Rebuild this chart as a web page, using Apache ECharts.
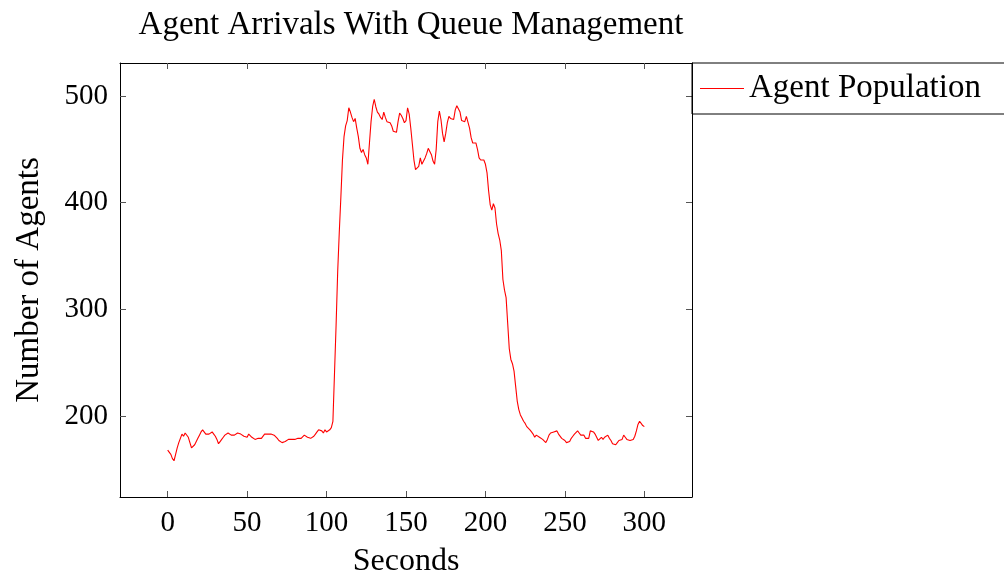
<!DOCTYPE html>
<html>
<head>
<meta charset="utf-8">
<title>Agent Arrivals With Queue Management</title>
<script src="https://cdn.jsdelivr.net/npm/echarts@6/dist/echarts.min.js"></script>
<style>
  html, body { margin: 0; padding: 0; background: #fff; }
  #chart { width: 1004px; height: 577px; }
</style>
</head>
<body>
<div id="chart"></div>
<script>
// Agent population sampled once per second, starting at t = 0 s
const population = [
  168, 167, 164, 160, 158, 164, 170, 175, 179, 183,
  181, 184, 185, 180, 175, 170, 171, 173, 176, 179,
  182, 185, 187, 188, 183, 183, 183, 184, 185, 183,
  181, 178, 174, 176, 178, 180, 182, 183, 184, 184,
  182, 182, 182, 183, 184, 184, 183, 183, 181, 180,
  180, 183, 182, 180, 179, 178, 179, 179, 179, 179,
  180, 183, 184, 183, 183, 183, 183, 182, 181, 179,
  177, 176, 175, 176, 176, 177, 178, 177, 178, 179,
  178, 178, 179, 180, 179, 180, 182, 181, 180, 180,
  179, 179, 181, 183, 185, 187, 188, 186, 184, 187,
  185, 185, 187, 189, 195, 240, 285, 335, 372, 405,
  440, 462, 472, 477, 489, 485, 480, 476, 479, 470,
  462, 451, 447, 450, 445, 442, 436, 456, 476, 490,
  497, 490, 485, 483, 480, 478, 485, 480, 476, 476,
  475, 472, 467, 466, 466, 476, 484, 482, 479, 475,
  477, 489, 483, 470, 455, 440, 431, 431, 434, 442,
  436, 435, 442, 446, 451, 450, 445, 439, 436, 450,
  476, 486, 478, 465, 457, 465, 475, 481, 479, 478,
  478, 487, 491, 492, 485, 477, 477, 476, 481, 481,
  470, 461, 456, 457, 456, 450, 442, 440, 441, 440,
  436, 428, 411, 398, 393, 399, 395, 380, 371, 365,
  355, 328, 318, 311, 287, 263, 253, 249, 242, 228,
  214, 206, 201, 198, 195, 193, 190, 190, 187, 185,
  183, 180, 182, 181, 180, 180, 178, 177, 175, 178,
  182, 184, 185, 185, 184, 186, 183, 182, 179, 179,
  177, 175, 175, 176, 179, 181, 183, 184, 186, 184,
  182, 181, 182, 179, 180, 179, 186, 185, 185, 183,
  180, 177, 177, 180, 178, 180, 181, 182, 179, 177,
  174, 173, 173, 175, 177, 177, 178, 182, 180, 178,
  177, 177, 177, 178, 181, 186, 192, 195, 193, 191,
  190
];
const xTicks = [0, 50, 100, 150, 200, 250, 300];
const yTicks = [200, 300, 400, 500];

const seriesName = 'Agent Population';
const chartTitle = 'Agent Arrivals With Queue Management';
const xLabel = 'Seconds';
const yLabel = 'Number of Agents';

const FONT = '"Liberation Serif", "DejaVu Serif", serif';
const points = population.map((v, i) => [i, v]);

const chart = echarts.init(document.getElementById('chart'), null, { renderer: 'canvas' });

const frame = { show: true, onZero: false, lineStyle: { color: '#000', width: 1 } };
const ticks = values => ({
  show: true, inside: true, length: 6, customValues: values,
  lineStyle: { color: '#555', width: 1 }
});

chart.setOption({
  animation: false,
  backgroundColor: '#fff',
  title: {
    text: chartTitle,
    left: 406,
    top: 4,
    textAlign: 'center',
    textStyle: { fontFamily: FONT, fontWeight: 'normal', fontSize: 33, color: '#000' }
  },
  legend: {
    data: [seriesName],
    left: 692,
    top: 63,
    orient: 'vertical',
    icon: 'rect',
    itemWidth: 44,
    itemHeight: 1.2,
    itemGap: 0,
    padding: [9, 80, 9, 8],
    borderColor: '#000',
    borderWidth: 1,
    borderRadius: 0,
    textStyle: { fontFamily: FONT, fontSize: 33, color: '#000' }
  },
  grid: {
    left: 120, right: 312, top: 63, bottom: 80,
    containLabel: false, outerBoundsMode: 'none'
  },
  xAxis: [
    {
      type: 'value', min: -30, max: 330,
      axisLine: frame, axisTick: ticks(xTicks), splitLine: { show: false },
      axisLabel: {
        fontFamily: FONT, fontSize: 29, color: '#000', margin: 12,
        customValues: xTicks
      },
      name: xLabel, nameLocation: 'middle', nameGap: 49,
      nameTextStyle: { fontFamily: FONT, fontSize: 32, color: '#000' }
    },
    {
      type: 'value', position: 'top', min: -30, max: 330,
      axisLine: frame, axisTick: ticks(xTicks),
      axisLabel: { show: false }, splitLine: { show: false }
    }
  ],
  yAxis: [
    {
      type: 'value', min: 124, max: 531,
      axisLine: frame, axisTick: ticks(yTicks),
      axisLabel: {
        fontFamily: FONT, fontSize: 29, color: '#000', margin: 12,
        customValues: yTicks
      },
      splitLine: { show: false },
      name: yLabel, nameLocation: 'middle', nameGap: 74, nameRotate: 90,
      nameTextStyle: { fontFamily: FONT, fontSize: 33, color: '#000' }
    },
    {
      type: 'value', position: 'right', min: 124, max: 531,
      axisLine: frame, axisTick: ticks(yTicks),
      axisLabel: { show: false }, splitLine: { show: false }
    }
  ],
  series: [
    {
      name: seriesName,
      type: 'line',
      data: points,
      showSymbol: false,
      symbol: 'none',
      lineStyle: { color: '#ff0000', width: 1.1 },
      itemStyle: { color: '#ff0000' }
    }
  ]
});
</script>
</body>
</html>
